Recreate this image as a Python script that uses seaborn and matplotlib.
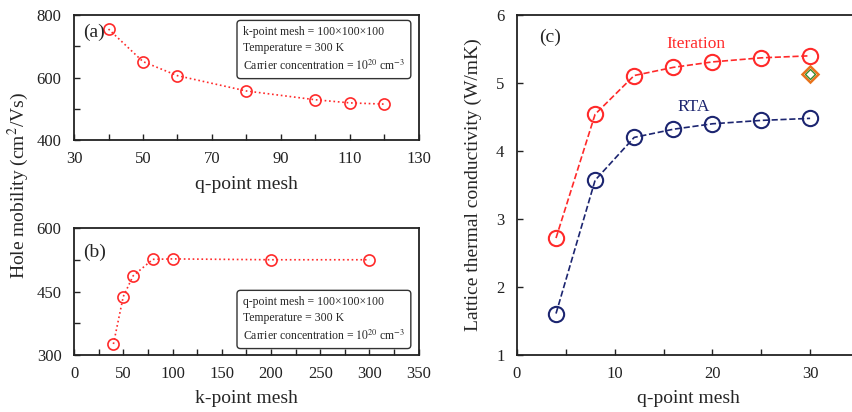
import matplotlib
matplotlib.use("Agg")
import matplotlib.pyplot as plt
import seaborn as sns
import pandas as pd

# ---- data ----
q_mesh_a = [40, 50, 60, 80, 100, 110, 120]
mob_a = [755, 651, 606, 557, 529, 519, 515]

k_mesh_b = [40, 50, 60, 80, 100, 200, 300]
mob_b = [326, 438, 487, 526, 527, 525, 525]

q_mesh_c = [4, 8, 12, 16, 20, 25, 30]
kappa_iter = [2.72, 4.54, 5.11, 5.23, 5.31, 5.37, 5.40]
kappa_rta = [1.61, 3.57, 4.20, 4.32, 4.40, 4.45, 4.48]
diamond_x = [30]
diamond_y = [5.13]

box_a = "k-point mesh = 100×100×100\nTemperature = 300 K\nCarrier concentration = $10^{20}$ cm$^{-3}$"
box_b = "q-point mesh = 100×100×100\nTemperature = 300 K\nCarrier concentration = $10^{20}$ cm$^{-3}$"

sns.set_style("ticks")
plt.rcParams["font.family"] = ["Liberation Serif", "DejaVu Serif"]
plt.rcParams["mathtext.fontset"] = "stix"
plt.rcParams["xtick.direction"] = "in"
plt.rcParams["ytick.direction"] = "in"
plt.rcParams["axes.linewidth"] = 1.3
plt.rcParams["axes.edgecolor"] = "#222222"

RED = "#ff2a2a"
NAVY = "#1c2570"

fig = plt.figure(figsize=(8.53, 4.12), dpi=100)
ax_a = fig.add_axes([0.0868, 0.660, 0.404, 0.3036])
ax_b = fig.add_axes([0.0868, 0.1383, 0.404, 0.3083])
ax_c = fig.add_axes([0.606, 0.1383, 0.401, 0.8253])

tick_fs = 12
lab_fs = 14

def style(ax):
    for s in ax.spines.values():
        s.set_visible(True)
        s.set_linewidth(1.3)
        s.set_color("#222222")
    ax.tick_params(which="both", direction="in", length=4, width=1.0,
                   labelsize=tick_fs, colors="#222222")
    ax.tick_params(axis="y", which="both", pad=9)
    ax.tick_params(axis="x", which="both", pad=8)

# (a)
df_a = pd.DataFrame({"q": q_mesh_a, "mob": mob_a})
sns.lineplot(data=df_a, x="q", y="mob", ax=ax_a, color=RED, linestyle=":",
             linewidth=1.2, marker="o", markersize=8, markerfacecolor="none",
             markeredgecolor=RED, markeredgewidth=1.2)
ax_a.set_xlim(30, 130)
ax_a.set_ylim(400, 800)
ax_a.set_xticks([30, 50, 70, 90, 110, 130])
ax_a.set_xticks([40, 60, 80, 100, 120], minor=True)
ax_a.set_yticks([400, 600, 800])
ax_a.set_yticks([500, 700], minor=True)
ax_a.set_xlabel("q-point mesh", fontsize=lab_fs, labelpad=6)
ax_a.set_ylabel("")
style(ax_a)
ax_a.text(0.025, 0.86, "(a)", transform=ax_a.transAxes, fontsize=14, va="center")
ax_a.text(0.49, 0.724, box_a, transform=ax_a.transAxes, fontsize=8.5, va="center",
          ha="left", linespacing=1.4,
          bbox=dict(boxstyle="round,pad=0.5,rounding_size=0.3", fc="white",
                    ec="#333333", lw=1.0))

# (b)
df_b = pd.DataFrame({"k": k_mesh_b, "mob": mob_b})
sns.lineplot(data=df_b, x="k", y="mob", ax=ax_b, color=RED, linestyle=":",
             linewidth=1.2, marker="o", markersize=8, markerfacecolor="none",
             markeredgecolor=RED, markeredgewidth=1.2)
ax_b.set_xlim(0, 350)
ax_b.set_ylim(300, 600)
ax_b.set_xticks([0, 50, 100, 150, 200, 250, 300, 350])
ax_b.set_xticks([25, 75, 125, 175, 225, 275, 325], minor=True)
ax_b.set_yticks([300, 450, 600])
ax_b.set_yticks([375, 525], minor=True)
ax_b.set_xlabel("k-point mesh", fontsize=lab_fs, labelpad=6)
ax_b.set_ylabel("")
style(ax_b)
ax_b.text(0.025, 0.81, "(b)", transform=ax_b.transAxes, fontsize=14, va="center")
ax_b.text(0.49, 0.28, box_b, transform=ax_b.transAxes, fontsize=8.5, va="center",
          ha="left", linespacing=1.4,
          bbox=dict(boxstyle="round,pad=0.5,rounding_size=0.3", fc="white",
                    ec="#333333", lw=1.0))

fig.text(0.022, 0.55, "Hole mobility (cm$^2$/Vs)", rotation=90, fontsize=lab_fs,
         ha="center", va="center")

# (c)
df_c = pd.DataFrame({"q": q_mesh_c + q_mesh_c,
                     "kappa": kappa_iter + kappa_rta,
                     "method": ["Iteration"] * 7 + ["RTA"] * 7})
sns.lineplot(data=df_c, x="q", y="kappa", hue="method", ax=ax_c,
             palette={"Iteration": RED, "RTA": NAVY}, linestyle="--",
             linewidth=1.2, marker="o", markersize=11, markerfacecolor="none",
             markeredgewidth=1.5, legend=False)
for line, col in zip(ax_c.get_lines(), [RED, NAVY]):
    line.set_markeredgecolor(col)
ax_c.plot(diamond_x, diamond_y, linestyle="none", marker="D", markersize=8,
          markerfacecolor="none", markeredgecolor="#e8731c", markeredgewidth=1.8)
ax_c.plot(diamond_x, diamond_y, linestyle="none", marker="D", markersize=5,
          markerfacecolor="none", markeredgecolor="#3a8a2a", markeredgewidth=1.0)
ax_c.set_xlim(0, 35)
ax_c.set_ylim(1, 6)
ax_c.set_xticks([0, 10, 20, 30])
ax_c.set_xticks([5, 15, 25], minor=True)
ax_c.set_yticks([1, 2, 3, 4, 5, 6])
ax_c.set_xlabel("q-point mesh", fontsize=lab_fs, labelpad=6)
ax_c.set_ylabel("Lattice thermal conductivity (W/mK)", fontsize=lab_fs, labelpad=10)
style(ax_c)
ax_c.text(0.065, 0.935, "(c)", transform=ax_c.transAxes, fontsize=14, va="center")
ax_c.text(18.3, 5.57, "Iteration", color=RED, fontsize=12.5, ha="center", va="center")
ax_c.text(18.1, 4.65, "RTA", color=NAVY, fontsize=12.5, ha="center", va="center")

fig.savefig("out.png", dpi=100)
